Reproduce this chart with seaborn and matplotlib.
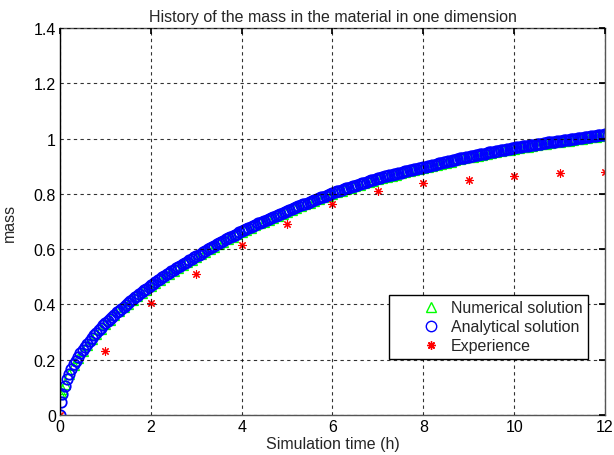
import matplotlib
matplotlib.use("Agg")
import matplotlib.pyplot as plt
import seaborn as sns
import pandas as pd

sns.set_theme(style="white")
plt.rcParams['font.family'] = ['Liberation Sans', 'DejaVu Sans']

title = "History of the mass in the material in one dimension"
xlabel = "Simulation time (h)"
ylabel = "mass"
labels = ["Numerical solution", "Analytical solution", "Experience"]

# analytical solution, read every 0.05 h
t_ana = [0, 0.02, 0.05,
         0.1, 0.15, 0.2, 0.25, 0.3, 0.35, 0.4, 0.45, 0.5, 0.55, 0.6, 0.65, 0.7, 0.75, 0.8, 0.85, 0.9, 0.95, 1.0,
         1.05, 1.1, 1.15, 1.2, 1.25, 1.3, 1.35, 1.4, 1.45, 1.5, 1.55, 1.6, 1.65, 1.7, 1.75, 1.8, 1.85, 1.9, 1.95, 2.0,
         2.05, 2.1, 2.15, 2.2, 2.25, 2.3, 2.35, 2.4, 2.45, 2.5, 2.55, 2.6, 2.65, 2.7, 2.75, 2.8, 2.85, 2.9, 2.95, 3.0,
         3.05, 3.1, 3.15, 3.2, 3.25, 3.3, 3.35, 3.4, 3.45, 3.5, 3.55, 3.6, 3.65, 3.7, 3.75, 3.8, 3.85, 3.9, 3.95, 4.0,
         4.05, 4.1, 4.15, 4.2, 4.25, 4.3, 4.35, 4.4, 4.45, 4.5, 4.55, 4.6, 4.65, 4.7, 4.75, 4.8, 4.85, 4.9, 4.95, 5.0,
         5.05, 5.1, 5.15, 5.2, 5.25, 5.3, 5.35, 5.4, 5.45, 5.5, 5.55, 5.6, 5.65, 5.7, 5.75, 5.8, 5.85, 5.9, 5.95, 6.0,
         6.05, 6.1, 6.15, 6.2, 6.25, 6.3, 6.35, 6.4, 6.45, 6.5, 6.55, 6.6, 6.65, 6.7, 6.75, 6.8, 6.85, 6.9, 6.95, 7.0,
         7.05, 7.1, 7.15, 7.2, 7.25, 7.3, 7.35, 7.4, 7.45, 7.5, 7.55, 7.6, 7.65, 7.7, 7.75, 7.8, 7.85, 7.9, 7.95, 8.0,
         8.05, 8.1, 8.15, 8.2, 8.25, 8.3, 8.35, 8.4, 8.45, 8.5, 8.55, 8.6, 8.65, 8.7, 8.75, 8.8, 8.85, 8.9, 8.95, 9.0,
         9.05, 9.1, 9.15, 9.2, 9.25, 9.3, 9.35, 9.4, 9.45, 9.5, 9.55, 9.6, 9.65, 9.7, 9.75, 9.8, 9.85, 9.9, 9.95, 10.0,
         10.05, 10.1, 10.15, 10.2, 10.25, 10.3, 10.35, 10.4, 10.45, 10.5, 10.55, 10.6, 10.65, 10.7, 10.75, 10.8, 10.85, 10.9, 10.95, 11.0,
         11.05, 11.1, 11.15, 11.2, 11.25, 11.3, 11.35, 11.4, 11.45, 11.5, 11.55, 11.6, 11.65, 11.7, 11.75, 11.8, 11.85, 11.9, 11.95, 12.0]

analytical = [0.0, 0.048, 0.075,
              0.105, 0.129, 0.150, 0.167, 0.183, 0.197, 0.210, 0.223, 0.235, 0.247, 0.258, 0.268, 0.278, 0.288, 0.297, 0.306, 0.315, 0.324, 0.332,
              0.340, 0.348, 0.356, 0.363, 0.371, 0.378, 0.385, 0.392, 0.399, 0.406, 0.413, 0.419, 0.426, 0.432, 0.439, 0.445, 0.451, 0.457, 0.463, 0.469,
              0.475, 0.481, 0.487, 0.492, 0.498, 0.503, 0.509, 0.514, 0.520, 0.525, 0.530, 0.535, 0.540, 0.545, 0.550, 0.555, 0.560, 0.565, 0.570, 0.575,
              0.580, 0.584, 0.589, 0.594, 0.599, 0.603, 0.608, 0.612, 0.617, 0.621, 0.626, 0.630, 0.635, 0.639, 0.644, 0.648, 0.652, 0.656, 0.661, 0.665,
              0.669, 0.673, 0.677, 0.681, 0.685, 0.689, 0.693, 0.696, 0.700, 0.703, 0.707, 0.710, 0.714, 0.717, 0.721, 0.724, 0.728, 0.731, 0.735, 0.738,
              0.742, 0.745, 0.749, 0.752, 0.755, 0.758, 0.762, 0.765, 0.768, 0.771, 0.775, 0.778, 0.781, 0.784, 0.787, 0.790, 0.794, 0.797, 0.800, 0.803,
              0.806, 0.809, 0.812, 0.814, 0.817, 0.820, 0.823, 0.825, 0.828, 0.830, 0.833, 0.836, 0.839, 0.841, 0.844, 0.846, 0.849, 0.851, 0.854, 0.856,
              0.858, 0.860, 0.863, 0.865, 0.867, 0.869, 0.871, 0.873, 0.875, 0.877, 0.879, 0.881, 0.883, 0.885, 0.887, 0.889, 0.891, 0.892, 0.894, 0.896,
              0.898, 0.900, 0.902, 0.904, 0.906, 0.908, 0.910, 0.912, 0.914, 0.916, 0.918, 0.920, 0.922, 0.924, 0.926, 0.928, 0.930, 0.931, 0.933, 0.935,
              0.937, 0.938, 0.940, 0.941, 0.943, 0.944, 0.946, 0.948, 0.950, 0.951, 0.953, 0.954, 0.956, 0.957, 0.959, 0.960, 0.962, 0.963, 0.965, 0.966,
              0.968, 0.969, 0.971, 0.972, 0.973, 0.974, 0.976, 0.977, 0.978, 0.979, 0.981, 0.982, 0.983, 0.984, 0.986, 0.987, 0.988, 0.989, 0.991, 0.992,
              0.993, 0.994, 0.995, 0.996, 0.998, 0.999, 1.000, 1.001, 1.002, 1.003, 1.005, 1.006, 1.007, 1.008, 1.009, 1.010, 1.012, 1.013, 1.014, 1.015]

# numerical solution, read every 0.1 h
t_num = [0, 0.02, 0.05,
         0.1, 0.2, 0.3, 0.4, 0.5, 0.6, 0.7, 0.8, 0.9, 1.0,
         1.1, 1.2, 1.3, 1.4, 1.5, 1.6, 1.7, 1.8, 1.9, 2.0,
         2.1, 2.2, 2.3, 2.4, 2.5, 2.6, 2.7, 2.8, 2.9, 3.0,
         3.1, 3.2, 3.3, 3.4, 3.5, 3.6, 3.7, 3.8, 3.9, 4.0,
         4.1, 4.2, 4.3, 4.4, 4.5, 4.6, 4.7, 4.8, 4.9, 5.0,
         5.1, 5.2, 5.3, 5.4, 5.5, 5.6, 5.7, 5.8, 5.9, 6.0,
         6.1, 6.2, 6.3, 6.4, 6.5, 6.6, 6.7, 6.8, 6.9, 7.0,
         7.1, 7.2, 7.3, 7.4, 7.5, 7.6, 7.7, 7.8, 7.9, 8.0,
         8.1, 8.2, 8.3, 8.4, 8.5, 8.6, 8.7, 8.8, 8.9, 9.0,
         9.1, 9.2, 9.3, 9.4, 9.5, 9.6, 9.7, 9.8, 9.9, 10.0,
         10.1, 10.2, 10.3, 10.4, 10.5, 10.6, 10.7, 10.8, 10.9, 11.0,
         11.1, 11.2, 11.3, 11.4, 11.5, 11.6, 11.7, 11.8, 11.9, 12.0]

numerical = [0.075, 0.085, 0.095,
             0.112, 0.150, 0.180, 0.207, 0.232, 0.255, 0.275, 0.294, 0.312, 0.329,
             0.345, 0.360, 0.375, 0.389, 0.403, 0.416, 0.429, 0.442, 0.454, 0.466,
             0.478, 0.489, 0.500, 0.511, 0.522, 0.532, 0.542, 0.552, 0.562, 0.572,
             0.581, 0.591, 0.600, 0.609, 0.618, 0.627, 0.636, 0.645, 0.653, 0.662,
             0.670, 0.678, 0.686, 0.693, 0.700, 0.707, 0.714, 0.721, 0.728, 0.735,
             0.742, 0.749, 0.755, 0.762, 0.768, 0.775, 0.781, 0.787, 0.794, 0.800,
             0.806, 0.811, 0.817, 0.822, 0.827, 0.833, 0.838, 0.843, 0.848, 0.853,
             0.857, 0.862, 0.866, 0.870, 0.874, 0.878, 0.882, 0.886, 0.889, 0.893,
             0.897, 0.901, 0.905, 0.909, 0.913, 0.917, 0.921, 0.925, 0.928, 0.932,
             0.935, 0.938, 0.941, 0.945, 0.948, 0.951, 0.954, 0.957, 0.960, 0.963,
             0.966, 0.969, 0.971, 0.974, 0.976, 0.979, 0.981, 0.984, 0.986, 0.989,
             0.991, 0.993, 0.996, 0.998, 1.000, 1.003, 1.005, 1.007, 1.010, 1.012]

t_exp = [0, 1, 2, 3, 4, 5, 6, 7, 8, 9, 10, 11, 12]
experience = [0.0, 0.23, 0.405, 0.51, 0.615, 0.69, 0.765, 0.81, 0.84, 0.85, 0.865, 0.876, 0.879]

xticks = [0, 2, 4, 6, 8, 10, 12]
yticks = [0, 0.2, 0.4, 0.6, 0.8, 1.0, 1.2, 1.4]
yticklabels = ["0", "0.2", "0.4", "0.6", "0.8", "1", "1.2", "1.4"]

df_ana = pd.DataFrame({"t": t_ana, "m": analytical})
df_num = pd.DataFrame({"t": t_num, "m": numerical})
df_exp = pd.DataFrame({"t": t_exp, "m": experience})

FS = 11.5
fig = plt.figure(figsize=(6.14, 4.56), dpi=100)
ax = fig.add_axes([0.0977, 0.0877, 0.8876, 0.8487])

sns.lineplot(data=df_num, x="t", y="m", ax=ax, estimator=None, sort=False,
             linestyle="none", marker="^", markersize=7, markerfacecolor="none",
             markeredgecolor="#00ff00", markeredgewidth=0.9, label=labels[0])
sns.lineplot(data=df_ana, x="t", y="m", ax=ax, estimator=None, sort=False,
             linestyle="none", marker="o", markersize=7.5, markerfacecolor="none",
             markeredgecolor="#0000ff", markeredgewidth=1.3, label=labels[1])
sns.lineplot(data=df_exp, x="t", y="m", ax=ax, estimator=None, sort=False,
             linestyle="none", marker=(8, 2, 0), markersize=6,
             markeredgecolor="#ff0000", markerfacecolor="#ff0000",
             markeredgewidth=0.8, label=labels[2])

ax.set_xlim(0, 12)
ax.set_ylim(0, 1.4)
ax.set_xticks(xticks)
ax.set_xticklabels([str(v) for v in xticks])
ax.set_yticks(yticks)
ax.set_yticklabels(yticklabels)
ax.tick_params(direction="in", length=4, labelsize=FS, colors="black",
               top=True, right=True, pad=3)
ax.grid(True, color="black", linestyle=(0, (3, 3)), linewidth=0.8, alpha=0.8)
ax.set_axisbelow(False)
for s in ax.spines.values():
    s.set_color("#555555")
    s.set_linewidth(1.0)
ax.spines["left"].set_color("black")

ax.set_title(title, fontsize=FS, pad=5)
ax.set_xlabel(xlabel, fontsize=FS, labelpad=1)
ax.set_ylabel(ylabel, fontsize=FS, labelpad=12)

leg = ax.legend(loc="lower right", bbox_to_anchor=(0.969, 0.145), fontsize=FS,
                frameon=True, fancybox=False, edgecolor="black", framealpha=1,
                handlelength=4.5, handletextpad=-1.0, borderpad=0.35,
                labelspacing=0.25, borderaxespad=0)
leg.get_frame().set_linewidth(1.0)
for h in leg.legend_handles:
    h.set_markeredgewidth(1.0)

fig.savefig("out.png", dpi=100)
